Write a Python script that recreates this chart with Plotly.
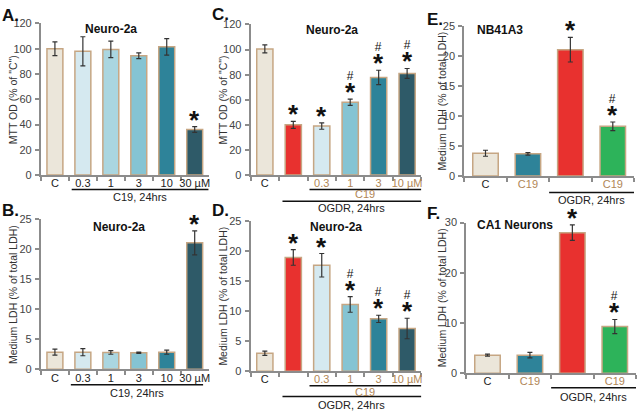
import plotly.graph_objects as go

# ---------------- data ----------------
cats_AB = ["C", "C19 0.3", "C19 1", "C19 3", "C19 10", "C19 30"]
labels_AB = ["C", "0.3", "1", "3", "10", "30 µM"]
mtt_A = [100, 98, 99.5, 94.5, 101.5, 36]
mtt_A_err = [5.5, 11.5, 6.5, 2.3, 6.5, 2.3]
sig_A = ["", "", "", "", "", "*"]

ldh_B = [2.85, 2.85, 2.8, 2.75, 2.85, 21.0]
ldh_B_err = [0.5, 0.6, 0.3, 0.1, 0.35, 2.0]
sig_B = ["", "", "", "", "", "*"]

cats_CD = ["C", "OGDR", "OGDR+C19 0.3", "OGDR+C19 1", "OGDR+C19 3", "OGDR+C19 10"]
labels_CD = ["C", "", "0.3", "1", "3", "10 µM"]
mtt_C = [100.5, 40, 39, 58, 77.8, 81]
mtt_C_err = [3.2, 2.8, 2.5, 2.5, 5.7, 3.9]
sig_C = ["", "*", "*", "#*", "#*", "#*"]

ldh_D = [3.0, 18.9, 17.6, 11.1, 8.7, 7.1]
ldh_D_err = [0.35, 1.3, 1.95, 1.3, 0.6, 1.7]
sig_D = ["", "*", "*", "#*", "#*", "#*"]

cats_EF = ["C", "C19", "OGDR", "OGDR+C19"]
labels_EF = ["C", "C19", "", "C19"]
ldh_E = [3.8, 3.7, 21.1, 8.3]
ldh_E_err = [0.5, 0.2, 2.05, 0.72]
sig_E = ["", "", "*", "#*"]

ldh_F = [3.6, 3.6, 28.0, 9.3]
ldh_F_err = [0.2, 0.55, 1.55, 1.4]
sig_F = ["", "", "*", "#*"]

TAN = "#b08656"
def tan(s):
    return f"<span style='color:{TAN}'>{s}</span>"

ticks_AB = labels_AB
ticks_CD = [labels_CD[0], labels_CD[1]] + [tan(s) for s in labels_CD[2:]]
ticks_EF = [labels_EF[0], tan(labels_EF[1]), labels_EF[2], tan(labels_EF[3])]

col_AB = ["#ebe6da", "#d5e9f0", "#aad6e0", "#85c4d3", "#2e8399", "#2e5a68"]
col_CD = ["#ebe6da", "#e8312f", "#d5e9f0", "#85c4d3", "#2e8399", "#2e5a68"]
col_EF = ["#ebe6da", "#2e8399", "#e8312f", "#2db35a"]

W, H = 640, 420
def px(x):
    return x / W
def py(y):
    return 1 - y / H

panels = [
    dict(n=1, lab="A.", labxy=(0, 10), cats=cats_AB, vals=mtt_A, err=mtt_A_err, sig=sig_A,
         ticks=ticks_AB, cols=col_AB, xr=(41, 209), yr=(18, 174), rng=[0, 120], dt=20,
         ytitle='MTT OD (% of "C")', ytx=13, title="Neuro-2a", tx=(111, 24, "center"),
         lines=[(0.6, 5.5, 189, "C19, 24hrs", 197, "#222")], width=0.57),
    dict(n=2, lab="B.", labxy=(0, 210), cats=cats_AB, vals=ldh_B, err=ldh_B_err, sig=sig_B,
         ticks=ticks_AB, cols=col_AB, xr=(41, 209), yr=(219, 374), rng=[0, 25], dt=5,
         ytitle="Medium LDH (% of total LDH)", ytx=13, title="Neuro-2a", tx=(119, 227, "center"),
         lines=[(0.57, 5.3, 390, "C19, 24hrs", 398, "#222")], width=0.57),
    dict(n=3, lab="C.", labxy=(210, 9), cats=cats_CD, vals=mtt_C, err=mtt_C_err, sig=sig_C,
         ticks=ticks_CD, cols=col_CD, xr=(251, 422), yr=(19, 174), rng=[0, 120], dt=20,
         ytitle='MTT OD (% of "C")', ytx=223, title="Neuro-2a", tx=(333, 25, "center"),
         lines=[(1.57, 5.5, 189, "C19", 194, TAN), (0.62, 5.5, 201, "OGDR, 24hrs", 208, "#222")],
         width=0.57),
    dict(n=4, lab="D.", labxy=(210, 211), cats=cats_CD, vals=ldh_D, err=ldh_D_err, sig=sig_D,
         ticks=ticks_CD, cols=col_CD, xr=(251, 422), yr=(221, 376), rng=[0, 25], dt=5,
         ytitle="Medium LDH (% of total LDH)", ytx=223, title="Neuro-2a", tx=(337, 227, "center"),
         lines=[(1.57, 5.5, 391, "C19", 397, TAN), (0.62, 5.5, 402, "OGDR, 24hrs", 411, "#222")],
         width=0.57),
    dict(n=5, lab="E.", labxy=(426, 14), cats=cats_EF, vals=ldh_E, err=ldh_E_err, sig=sig_E,
         ticks=ticks_EF, cols=col_EF, xr=(465, 635), yr=(21, 175), rng=[0, 25], dt=5,
         ytitle="Medium LDH (% of total LDH)", ytx=443, title="NB41A3", tx=(476, 25, "left"),
         lines=[(1.5, 3.5, 192, "OGDR, 24hrs", 200, "#222")], width=0.6),
    dict(n=6, lab="F.", labxy=(426, 214), cats=cats_EF, vals=ldh_F, err=ldh_F_err, sig=sig_F,
         ticks=ticks_EF, cols=col_EF, xr=(467, 637), yr=(223, 378), rng=[0, 30], dt=10,
         ytitle="Medium LDH (% of total LDH)", ytx=443, title="CA1 Neurons", tx=(476, 225, "left"),
         lines=[(1.5, 3.5, 393, "OGDR, 24hrs", 402, "#222")], width=0.6),
]

FONT = "Liberation Sans, Arial, sans-serif"
AX = "#8c8c8c"

fig = go.Figure()
layout = dict(width=W, height=H, margin=dict(l=0, r=0, t=0, b=0),
              paper_bgcolor="white", plot_bgcolor="rgba(0,0,0,0)", showlegend=False,
              font=dict(family=FONT, size=11, color="#333"))
annotations = []
shapes = []

STAR = "<span style='font-size:26px'><b>*</b></span>"
HASH = "<span style='font-size:12px'>#</span>"

for p in panels:
    n = p["n"]
    xa = f"x{n}" if n > 1 else "x"
    ya = f"y{n}" if n > 1 else "y"
    fig.add_trace(go.Bar(
        x=p["cats"], y=p["vals"], xaxis=xa, yaxis=ya, width=p["width"],
        marker=dict(color=p["cols"], line=dict(color="#c6a683", width=1.5)),
        error_y=dict(type="data", array=p["err"], color="#333", thickness=1.2, width=2.5),
        hoverinfo="skip"))
    xkey = "xaxis" if n == 1 else f"xaxis{n}"
    ykey = "yaxis" if n == 1 else f"yaxis{n}"
    layout[xkey] = dict(domain=[px(p["xr"][0]), px(p["xr"][1])], anchor=ya, type="category",
                        categoryorder="array", categoryarray=p["cats"],
                        tickmode="array", tickvals=p["cats"], ticktext=p["ticks"],
                        tickson="boundaries", ticks="outside", ticklen=4, tickwidth=1.5,
                        tickcolor=AX, showline=True, linecolor=AX, linewidth=2, tickangle=0,
                        ticklabelstandoff=-3,
                        showgrid=False, zeroline=False, range=[-0.5, len(p["cats"]) - 0.5],
                        tickfont=dict(size=11, color="#222"), fixedrange=True)
    tv = list(range(p["rng"][0], p["rng"][1] + 1, p["dt"]))
    layout[ykey] = dict(domain=[py(p["yr"][1]), py(p["yr"][0])], anchor=xa, range=p["rng"],
                        tickmode="array", tickvals=tv, ticks="outside", ticklen=4, tickwidth=1.5,
                        tickcolor=AX, showline=True, linecolor=AX, linewidth=2,
                        showgrid=False, zeroline=False, ticklabelstandoff=1,
                        tickfont=dict(size=11, color="#444"), fixedrange=True)
    # panel label
    annotations.append(dict(text=f"<b>{p['lab']}</b>", x=px(p["labxy"][0]), y=py(p["labxy"][1]),
                            xref="paper", yref="paper", xanchor="left", yanchor="middle",
                            showarrow=False, font=dict(size=17, color="#111")))
    # title
    annotations.append(dict(text=f"<b>{p['title']}</b>", x=px(p["tx"][0]), y=py(p["tx"][1]),
                            xref="paper", yref="paper", xanchor=p["tx"][2], yanchor="middle",
                            showarrow=False, font=dict(size=12, color="#111")))
    # y title
    annotations.append(dict(text=p["ytitle"], x=px(p["ytx"]), y=py((p["yr"][0] + p["yr"][1]) / 2),
                            xref="paper", yref="paper", xanchor="center", yanchor="middle",
                            textangle=-90, showarrow=False, font=dict(size=10.5, color="#333")))
    # underlines
    for (x0, x1, ly, txt, ty, tcol) in p["lines"]:
        shapes.append(dict(type="line", xref=xa, yref="paper", x0=x0, x1=x1,
                           y0=py(ly), y1=py(ly), line=dict(color="#111", width=1.5)))
        annotations.append(dict(text=txt, x=(x0 + x1) / 2, xref=xa, y=py(ty), yref="paper",
                                xanchor="center", yanchor="middle", showarrow=False,
                                font=dict(size=11, color=tcol)))
    # significance marks (x given as category index)
    for i, (v, e, s) in enumerate(zip(p["vals"], p["err"], p["sig"])):
        if not s:
            continue
        txt = (HASH + "<br>" + STAR) if "#" in s else STAR
        annotations.append(dict(text=txt, x=i, xref=xa, y=v + e, yref=ya,
                                xanchor="center", yanchor="bottom", yshift=-10,
                                showarrow=False, font=dict(size=16, color="#111")))

layout["annotations"] = annotations
layout["shapes"] = shapes
fig.update_layout(**layout)
fig.write_html("out.html", config={"displayModeBar": False},
               post_script="document.body.style.margin='0px';document.body.style.overflow='hidden';")
